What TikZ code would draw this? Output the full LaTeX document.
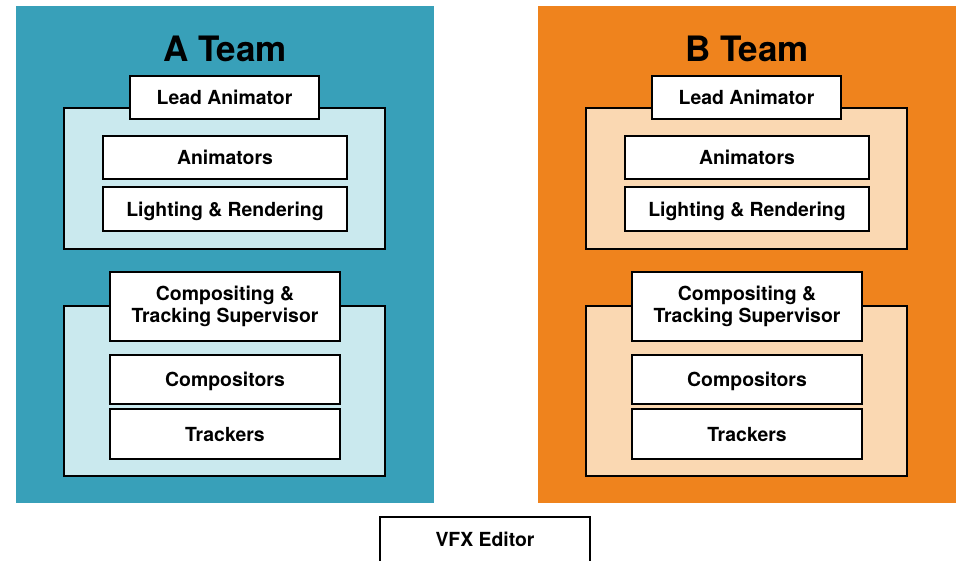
\documentclass[tikz,border=0pt]{standalone}
\usepackage{fontspec}
\setmainfont{TeX Gyre Heros}
\usetikzlibrary{calc}
\definecolor{ateamcolor}{RGB}{56,160,185}
\definecolor{ateamlight}{RGB}{202,233,238}
\definecolor{bteamcolor}{RGB}{239,131,29}
\definecolor{bteamlight}{RGB}{250,216,178}
\tikzset{
  box/.style={draw=black,line width=1.5pt},
  boxlabel/.style={font=\fontsize{19.4}{22.5}\selectfont\bfseries,align=center,inner sep=0pt},
  linelabel/.style={boxlabel,text height=14pt,text depth=0pt},
  titlelabel/.style={font=\fontsize{35}{40}\selectfont\bfseries,inner sep=0pt,anchor=base}
}
\tikzset{
  pics/team/.style args={#1/#2/#3}{
    code={
      \path[fill=#2]
        (0,0) coordinate (topleft_team_#1)
          -- ++(418,0)
          -- ++(0,497) coordinate (bottomright_team_#1)
          -- ++(-418,0)
          -- cycle
      ;
      \path[]
        (209,55) node[titlelabel] (label_team_#1) {#1 Team}
      ;
      % lead group
      \path[box,fill=#3]
        (48,102) coordinate (topleft_leadgroup_#1)
          -- ++(321,0)
          -- ++(0,141) coordinate (bottomright_leadgroup_#1)
          -- ++(-321,0)
          -- cycle
      ;
      \path[box,fill=white]
        (114,70) coordinate (topleft_lead_#1)
          -- ++(189,0)
          -- ++(0,43) coordinate (bottomright_lead_#1)
          -- ++(-189,0)
          -- cycle
      ;
      \path[]
        ($(topleft_lead_#1)!0.5!(bottomright_lead_#1)$) node[linelabel] (label_lead_#1) {Lead Animator}
      ;
      \path[box,fill=white]
        (87,130) coordinate (topleft_anim_#1)
          -- ++(244,0)
          -- ++(0,43) coordinate (bottomright_anim_#1)
          -- ++(-244,0)
          -- cycle
      ;
      \path[]
        ($(topleft_anim_#1)!0.5!(bottomright_anim_#1)$) node[linelabel] (label_anim_#1) {Animators}
      ;
      \path[box,fill=white]
        (87,181) coordinate (topleft_light_#1)
          -- ++(244,0)
          -- ++(0,44) coordinate (bottomright_light_#1)
          -- ++(-244,0)
          -- cycle
      ;
      \path[]
        ($(topleft_light_#1)!0.5!(bottomright_light_#1)$) node[linelabel] (label_light_#1) {Lighting \& Rendering}
      ;
      % compositing group
      \path[box,fill=#3]
        (48,300) coordinate (topleft_compgroup_#1)
          -- ++(321,0)
          -- ++(0,170) coordinate (bottomright_compgroup_#1)
          -- ++(-321,0)
          -- cycle
      ;
      \path[box,fill=white]
        (94,266) coordinate (topleft_super_#1)
          -- ++(230,0)
          -- ++(0,69) coordinate (bottomright_super_#1)
          -- ++(-230,0)
          -- cycle
      ;
      \path[]
        ($(topleft_super_#1)!0.5!(bottomright_super_#1)$) node[boxlabel] (label_super_#1) {Compositing \&\\Tracking Supervisor}
      ;
      \path[box,fill=white]
        (94,349) coordinate (topleft_comp_#1)
          -- ++(230,0)
          -- ++(0,49) coordinate (bottomright_comp_#1)
          -- ++(-230,0)
          -- cycle
      ;
      \path[]
        ($(topleft_comp_#1)!0.5!(bottomright_comp_#1)$) node[linelabel] (label_comp_#1) {Compositors}
      ;
      \path[box,fill=white]
        (94,403) coordinate (topleft_track_#1)
          -- ++(230,0)
          -- ++(0,50) coordinate (bottomright_track_#1)
          -- ++(-230,0)
          -- cycle
      ;
      \path[]
        ($(topleft_track_#1)!0.5!(bottomright_track_#1)$) node[linelabel] (label_track_#1) {Trackers}
      ;
    }
  }
}

\begin{document}
\begin{tikzpicture}[x=1pt, y=-1pt]

\useasboundingbox (0,0) rectangle (957,560);
\clip (0,0) rectangle (957,560);

\path[] (16,6) pic {team={A/ateamcolor/ateamlight}};
\path[] ($(topleft_team_A)+(522,0)$) pic {team={B/bteamcolor/bteamlight}};

\path[box,fill=white]
  (380,517) coordinate (topleft_editor)
    -- ++(210,0)
    -- ++(0,45) coordinate (bottomright_editor)
    -- ++(-210,0)
    -- cycle
;
\path[]
  ($(topleft_editor)!0.5!(bottomright_editor)$) node[linelabel] (editor) {VFX Editor}
;

\end{tikzpicture}
\end{document}
